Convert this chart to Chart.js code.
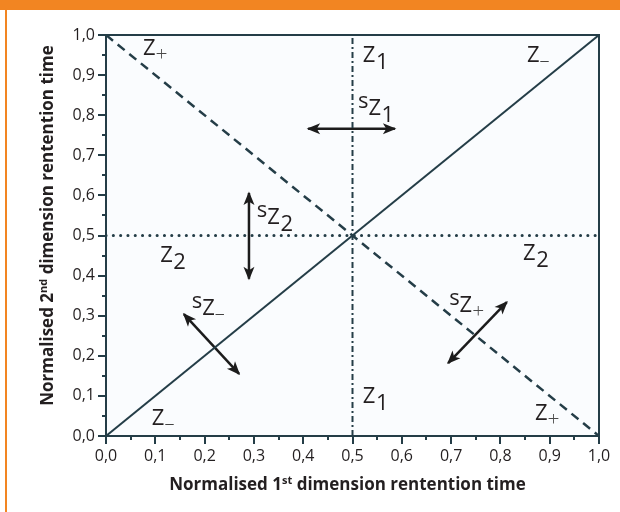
<!DOCTYPE html>
<html>
<head>
<meta charset="utf-8">
<script src="https://cdn.jsdelivr.net/npm/chart.js@4/dist/chart.umd.min.js"></script>
<style>
  html, body { margin: 0; padding: 0; background: #ffffff; }
  #wrap { position: relative; width: 620px; height: 512px; overflow: hidden; }
  #topBar { position: absolute; left: 0; top: 0; width: 620px; height: 10px; background: #f28522; }
  #sideRule { position: absolute; left: 5px; top: 10px; width: 2px; height: 502px; background: #f28522; }
  canvas { position: absolute; left: 0; top: 0; }
</style>
</head>
<body>
<div id="wrap">
  <canvas id="chart" width="620" height="512"></canvas>
  <div id="topBar"></div>
  <div id="sideRule"></div>
</div>
<script>
// Axis ticks (decimal comma)
const tickValues = [0, 0.1, 0.2, 0.3, 0.4, 0.5, 0.6, 0.7, 0.8, 0.9, 1.0];
const xTickLabels = ['0,0', '0,1', '0,2', '0,3', '0,4', '0,5', '0,6', '0,7', '0,8', '0,9', '1,0'];
const yTickLabels = ['0,0', '0,1', '0,2', '0,3', '0,4', '0,5', '0,6', '0,7', '0,8', '0,9', '1,0'];
const minorTickValues = [0.05, 0.15, 0.25, 0.35, 0.45, 0.55, 0.65, 0.75, 0.85, 0.95];

// Separation lines
const diagonalX = [0, 1];
const diagonalY = [0, 1];
const antiDiagonalX = [0, 1];
const antiDiagonalY = [1, 0];
const z1LineX = [0.5, 0.5];
const z1LineY = [0, 1];
const z2LineX = [0, 1];
const z2LineY = [0.5, 0.5];

// Spread arrows (both ends carry a head)
const spreadZ1X = [0.41, 0.586];
const spreadZ1Y = [0.766, 0.766];
const spreadZ2X = [0.29, 0.29];
const spreadZ2Y = [0.606, 0.392];
const spreadZminusX = [0.158, 0.27];
const spreadZminusY = [0.304, 0.155];
const spreadZplusX = [0.694, 0.813];
const spreadZplusY = [0.182, 0.334];

// Region labels: optional "s" prefix, "Z", subscript
const regionPrefix = ['', '', '', 's', 's', '', '', 's', 's', '', '', ''];
const regionSub    = ['+', '1', '–', '1', '2', '2', '2', '–', '+', '1', '–', '+'];
const regionX      = [0.075, 0.521, 0.854, 0.511, 0.306, 0.11, 0.846, 0.174, 0.696, 0.521, 0.093, 0.87];
const regionY      = [0.95, 0.933, 0.933, 0.818, 0.546, 0.434, 0.439, 0.319, 0.327, 0.082, 0.027, 0.04];

const xTitle = ['Normalised 1', 'st', ' dimension rentention time'];
const yTitle = ['Normalised 2', 'nd', ' dimension rentention time'];

const LINE = '#243d47';
const ARROW = '#1c1c1c';
const TEXT = '#231f20';
const FONT = '"Open Sans", "Noto Sans", sans-serif';

const pts = (xs, ys) => xs.map((x, i) => ({ x: x, y: ys[i] }));

function lineSet(xs, ys, extra) {
  return Object.assign({
    data: pts(xs, ys), showLine: true, pointRadius: 0, borderColor: LINE,
    borderWidth: 2, fill: false, tension: 0
  }, extra);
}

const arrowSets = [
  [spreadZ1X, spreadZ1Y], [spreadZ2X, spreadZ2Y],
  [spreadZminusX, spreadZminusY], [spreadZplusX, spreadZplusY]
];

const datasets = [
  lineSet(diagonalX, diagonalY, { borderWidth: 2 }),
  lineSet(antiDiagonalX, antiDiagonalY, { borderWidth: 2.5, borderDash: [9, 6] }),
  lineSet(z1LineX, z1LineY, { borderWidth: 2, borderDash: [6, 3, 2, 3] }),
  lineSet(z2LineX, z2LineY, { borderWidth: 3, borderDash: [0.1, 7.2], borderCapStyle: 'round' })
];
const firstArrow = datasets.length;
arrowSets.forEach(a => datasets.push(lineSet(a[0], a[1], { borderColor: ARROW, borderWidth: 2.5 })));

function arrowHead(ctx, tx, ty, fx, fy) {
  const ang = Math.atan2(ty - fy, tx - fx);
  const len = 12, half = 5.5;
  ctx.save();
  ctx.translate(tx, ty);
  ctx.rotate(ang);
  ctx.beginPath();
  ctx.moveTo(1.5, 0);
  ctx.lineTo(-len, -half);
  ctx.lineTo(-len * 0.72, 0);
  ctx.lineTo(-len, half);
  ctx.closePath();
  ctx.fill();
  ctx.restore();
}

function drawTitle(ctx, parts, cx, baseY) {
  const big = 'bold 17px ' + FONT, small = 'bold 11px ' + FONT;
  ctx.font = big; const w0 = ctx.measureText(parts[0]).width;
  ctx.font = small; const w1 = ctx.measureText(parts[1]).width;
  ctx.font = big; const w2 = ctx.measureText(parts[2]).width;
  let x = cx - (w0 + w1 + w2) / 2;
  ctx.textAlign = 'left';
  ctx.textBaseline = 'alphabetic';
  ctx.fillStyle = TEXT;
  ctx.font = big; ctx.fillText(parts[0], x, baseY); x += w0;
  ctx.font = small; ctx.fillText(parts[1], x, baseY - 6); x += w1;
  ctx.font = big; ctx.fillText(parts[2], x, baseY);
}

const decorPlugin = {
  id: 'decor',
  beforeDraw(chart) {
    const { ctx, chartArea: a } = chart;
    ctx.save();
    ctx.fillStyle = '#fafcfe';
    ctx.fillRect(a.left, a.top, a.right - a.left, a.bottom - a.top);
    ctx.restore();
  },
  afterDatasetsDraw(chart) {
    const { ctx, chartArea: a, scales } = chart;
    const xs = scales.x, ys = scales.y;
    ctx.save();
    // closing frame on top and right
    ctx.strokeStyle = LINE;
    ctx.lineWidth = 2;
    ctx.beginPath();
    ctx.moveTo(a.left, a.top);
    ctx.lineTo(a.right, a.top);
    ctx.lineTo(a.right, a.bottom);
    ctx.stroke();
    // minor ticks
    minorTickValues.forEach(v => {
      const px = Math.round(xs.getPixelForValue(v));
      ctx.beginPath(); ctx.moveTo(px, a.bottom); ctx.lineTo(px, a.bottom + 4); ctx.stroke();
      const py = Math.round(ys.getPixelForValue(v));
      ctx.beginPath(); ctx.moveTo(a.left, py); ctx.lineTo(a.left - 4, py); ctx.stroke();
    });
    // arrow heads
    ctx.fillStyle = ARROW;
    for (let i = 0; i < arrowSets.length; i++) {
      const m = chart.getDatasetMeta(firstArrow + i).data;
      arrowHead(ctx, m[0].x, m[0].y, m[1].x, m[1].y);
      arrowHead(ctx, m[1].x, m[1].y, m[0].x, m[0].y);
    }
    // region labels
    ctx.textAlign = 'left';
    ctx.textBaseline = 'alphabetic';
    for (let i = 0; i < regionX.length; i++) {
      let x = xs.getPixelForValue(regionX[i]);
      let y = ys.getPixelForValue(regionY[i]);
      ctx.fillStyle = TEXT;
      ctx.font = '22px ' + FONT;
      if (regionPrefix[i]) {
        ctx.fillText(regionPrefix[i], x, y);
        x += ctx.measureText(regionPrefix[i]).width;
        y += 7;
      }
      ctx.fillText('Z', x, y);
      x += ctx.measureText('Z').width;
      const s = regionSub[i];
      if (s === '+') {
        ctx.font = '300 21px ' + FONT; ctx.fillStyle = '#4a4a4a';
        ctx.fillText(s, x, y + 6);
      } else if (s === '–') {
        ctx.font = '300 20px ' + FONT; ctx.fillStyle = '#333333';
        ctx.fillText(s, x, y + 5);
      } else {
        ctx.font = '22px ' + FONT;
        ctx.fillText(s, x + 0.5, y + 7);
      }
    }
    ctx.restore();
  },
  afterDraw(chart) {
    const { ctx, chartArea: a } = chart;
    ctx.save();
    drawTitle(ctx, xTitle, (a.left + a.right) / 2 - 5, 490);
    ctx.translate(53, (a.top + a.bottom) / 2 - 10);
    ctx.rotate(-Math.PI / 2);
    drawTitle(ctx, yTitle, 0, 0);
    ctx.restore();
  }
};

function axis(labels, fitKey, fitSize) {
  return {
    type: 'linear', min: 0, max: 1,
    afterBuildTicks(s) { s.ticks = tickValues.map(v => ({ value: v })); },
    afterFit(s) { s[fitKey] = fitSize; },
    ticks: {
      autoSkip: false, maxRotation: 0, padding: 3, color: TEXT,
      font: { family: FONT, size: 16 },
      callback: (v, i) => labels[i]
    },
    grid: { display: true, drawOnChartArea: false, drawTicks: true, tickLength: 8, tickWidth: 2, lineWidth: 2, tickColor: LINE, color: LINE },
    border: { display: true, color: LINE, width: 2 },
    title: { display: false }
  };
}

new Chart(document.getElementById('chart'), {
  type: 'scatter',
  data: { datasets: datasets },
  options: {
    responsive: false,
    animation: false,
    devicePixelRatio: 1,
    layout: { padding: { top: 35, right: 21, left: 0, bottom: 0 } },
    plugins: { legend: { display: false }, tooltip: { enabled: false } },
    scales: {
      x: axis(xTickLabels, 'height', 76),
      y: axis(yTickLabels, 'width', 106)
    }
  },
  plugins: [decorPlugin]
});
</script>
</body>
</html>
